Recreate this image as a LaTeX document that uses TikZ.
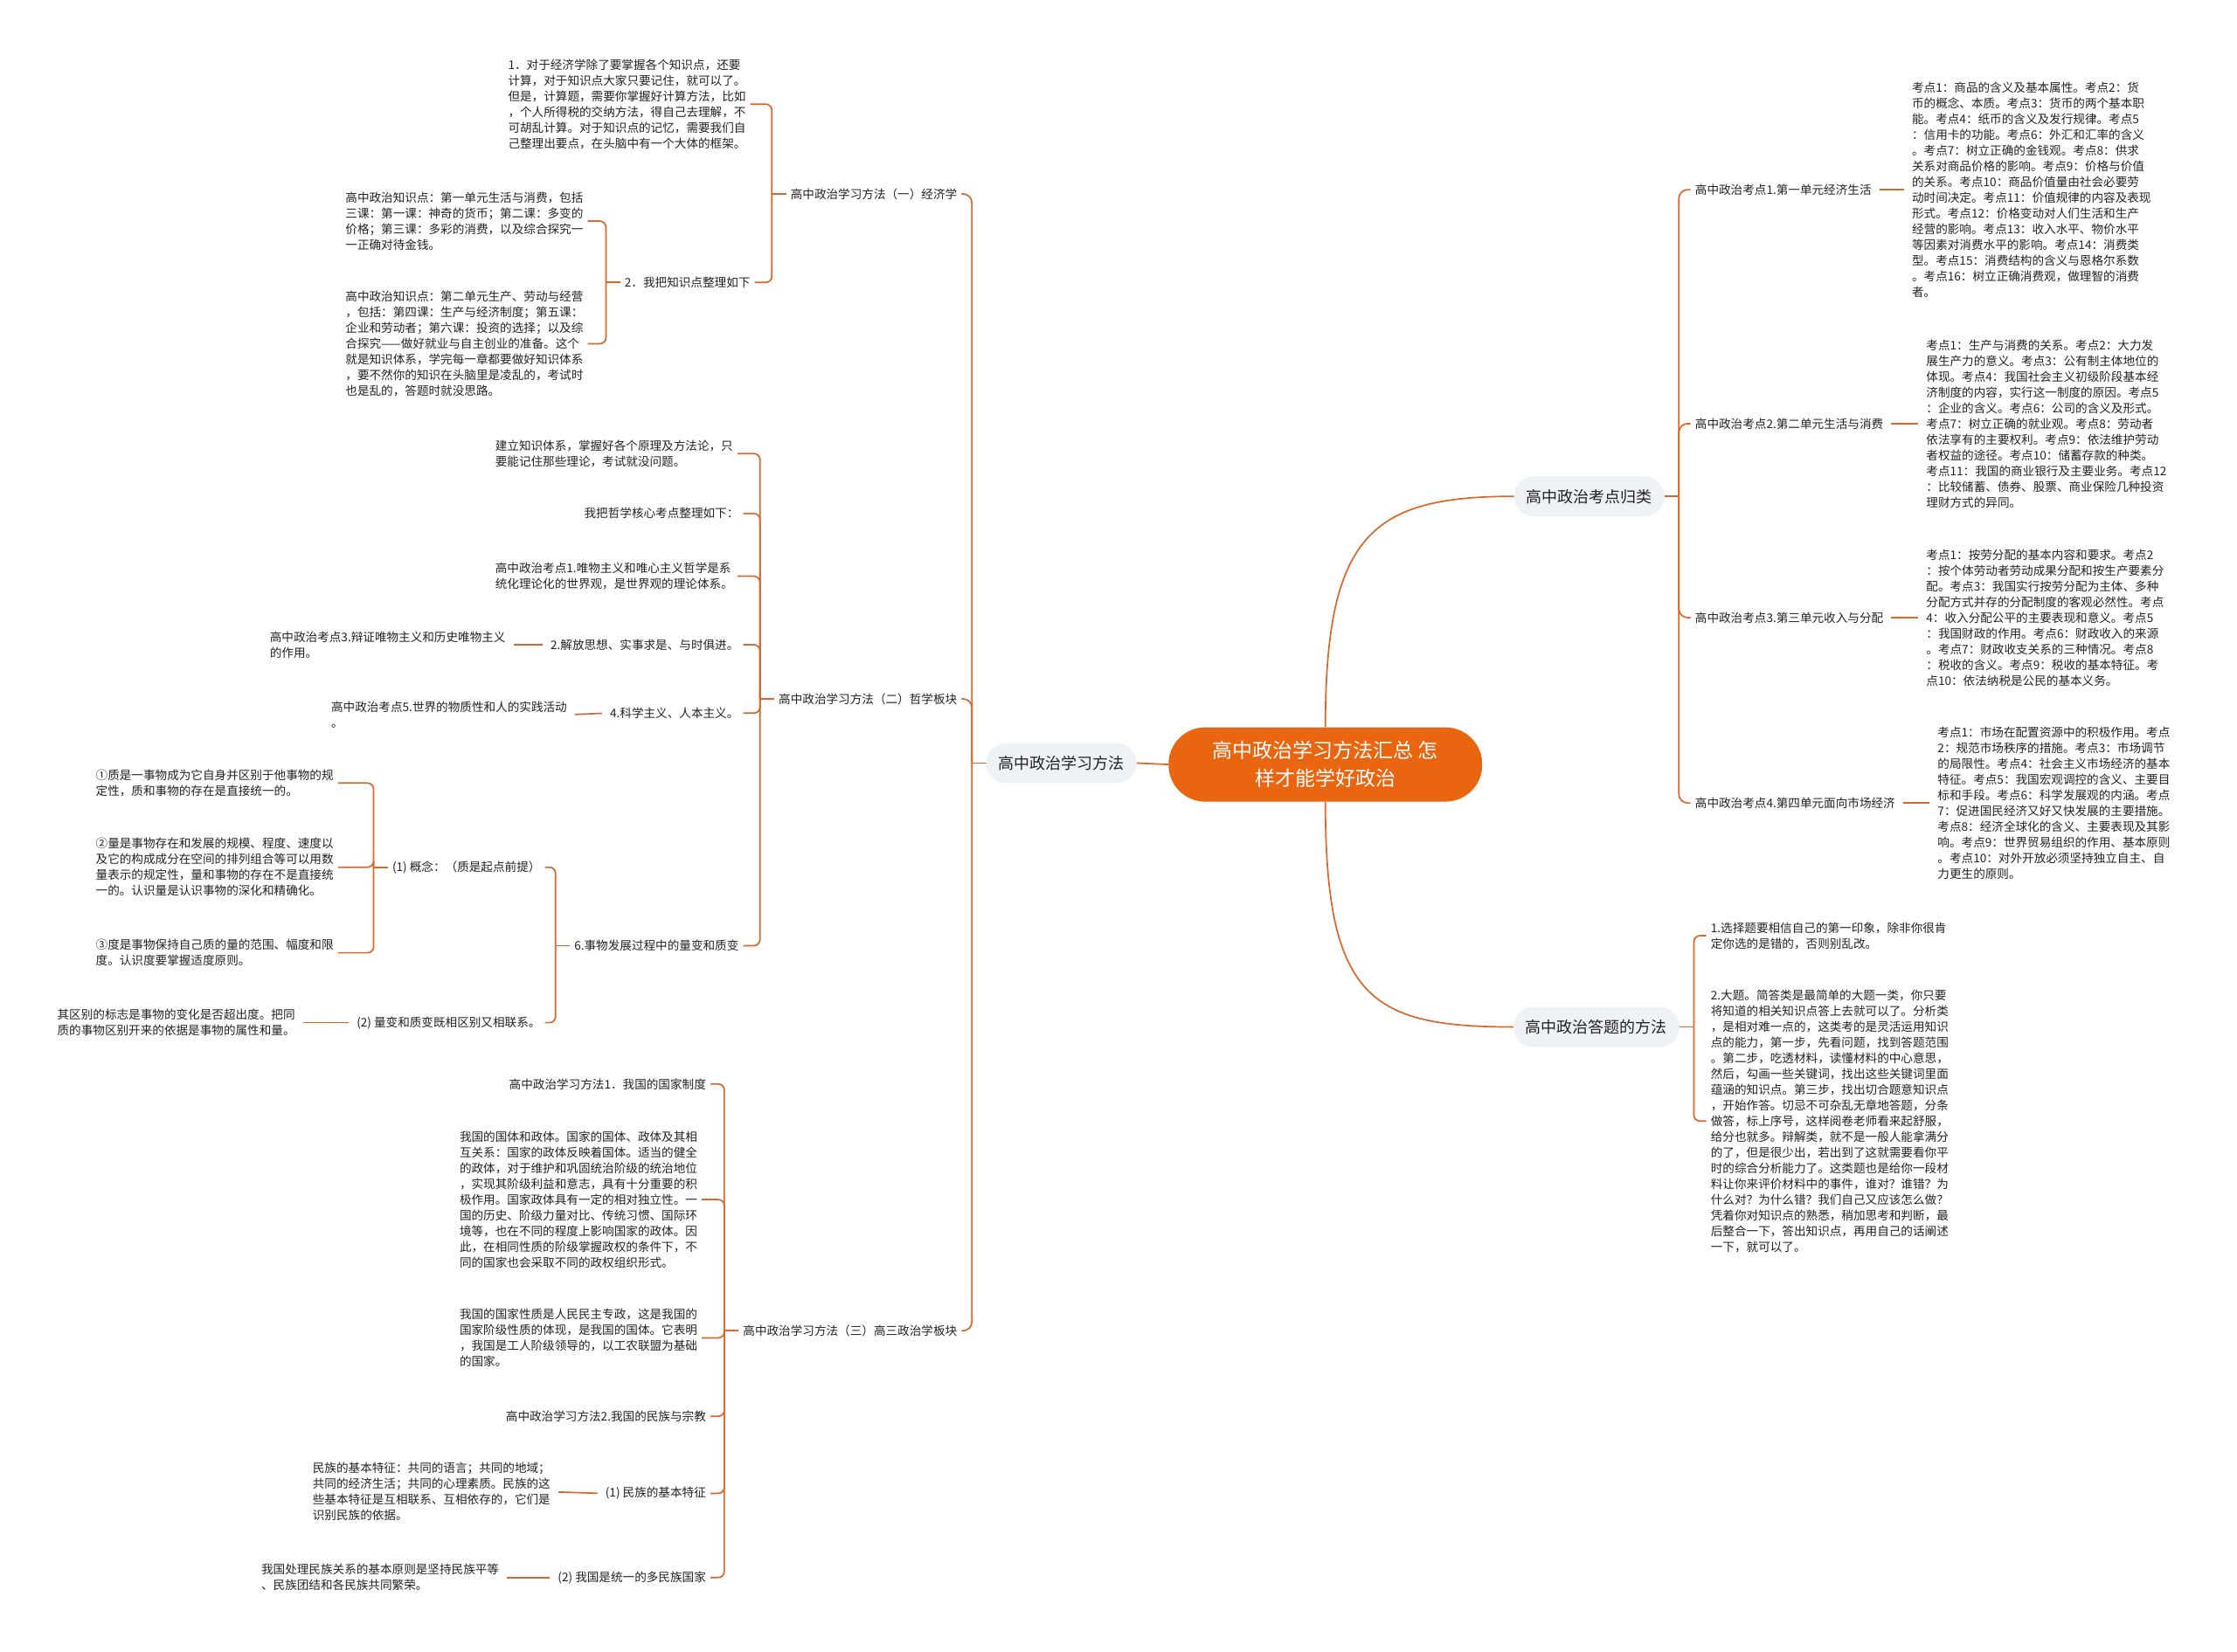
\documentclass[tikz,border=0pt]{standalone}
\usepackage{fontspec}
\setmainfont{Noto Sans CJK SC}
\usepackage{tikz}
\usetikzlibrary{positioning}
\definecolor{MapOrange}{HTML}{E9650F}
\definecolor{MapLine}{HTML}{D8672A}
\definecolor{MapPill}{HTML}{EEF1F5}
\definecolor{MapInk}{HTML}{222222}

\begin{document}
\begin{tikzpicture}[x=1.6327pt, y=-1.6327pt,
  link/.style={draw=MapLine, line width=1.7pt, rounded corners=7pt},
  pair/.style={link, shorten <=4pt, shorten >=4pt},
  root/.style={fill=MapOrange, text=white, rounded corners=42pt, minimum width=359pt,
    minimum height=85pt, align=center, font=\fontsize{23}{32}\selectfont},
  topic/.style={fill=MapPill, text=MapInk, rounded corners=23pt, minimum height=46pt,
    inner xsep=14pt, font=\fontsize{18}{22}\selectfont},
  leaf/.style={text=MapInk, align=left, inner xsep=5pt, inner ysep=2pt,
    font=\fontsize{13.6}{18}\selectfont}]
  \useasboundingbox (0,0) rectangle (1568,1158);
  \fill[white] (0,0) rectangle (1568,1158);

  \node[root] (root) at (929,536) {高中政治学习方法汇总 怎\\样才能学好政治};
  \node[topic] (xuexi) at (744,535) {高中政治学习方法};
  \node[topic] (kaodian) at (1114,348) {高中政治考点归类};
  \node[topic] (dati) at (1119,720) {高中政治答题的方法};

  \draw[link] (root.west) -- (xuexi.east);
  \draw[link] (root.north) .. controls +(0,-135) and +(-100,0) .. (kaodian.west);
  \draw[link] (root.south) .. controls +(0,138) and +(-100,0) .. (dati.west);

  % left: study methods
  \node[leaf, anchor=east] (jingji) at (674,136) {高中政治学习方法（一）经济学};
  \node[leaf, anchor=east] (zhexue) at (674,490) {高中政治学习方法（二）哲学板块};
  \node[leaf, anchor=east] (gaosan) at (674,933) {高中政治学习方法（三）高三政治学板块};

  \node[leaf, anchor=west] (jj1) at (353,73)
    {1．对于经济学除了要掌握各个知识点，还要\\计算，对于知识点大家只要记住，就可以了。\\但是，计算题，需要你掌握好计算方法，比如\\，个人所得税的交纳方法，得自己去理解，不\\可胡乱计算。对于知识点的记忆，需要我们自\\己整理出要点，在头脑中有一个大体的框架。};
  \node[leaf, anchor=east] (jj2) at (529,198) {2．我把知识点整理如下};
  \node[leaf, anchor=west] (zs1) at (239,155)
    {高中政治知识点：第一单元生活与消费，包括\\三课：第一课：神奇的货币；第二课：多变的\\价格；第三课：多彩的消费，以及综合探究一\\一正确对待金钱。};
  \node[leaf, anchor=west] (zs2) at (239,241)
    {高中政治知识点：第二单元生产、劳动与经营\\，包括：第四课：生产与经济制度；第五课：\\企业和劳动者；第六课：投资的选择；以及综\\合探究——做好就业与自主创业的准备。这个\\就是知识体系，学完每一章都要做好知识体系\\，要不然你的知识在头脑里是凌乱的，考试时\\也是乱的，答题时就没思路。};

  \node[leaf, anchor=west] (zx1) at (344,318)
    {建立知识体系，掌握好各个原理及方法论，只\\要能记住那些理论，考试就没问题。};
  \node[leaf, anchor=east] (zx2) at (521,360) {我把哲学核心考点整理如下：};
  \node[leaf, anchor=west] (zx3) at (344,404)
    {高中政治考点1.唯物主义和唯心主义哲学是系\\统化理论化的世界观，是世界观的理论体系。};
  \node[leaf, anchor=east] (zx4) at (521,452) {2.解放思想、实事求是、与时俱进。};
  \node[leaf, anchor=west] (zx4a) at (186,452) {高中政治考点3.辩证唯物主义和历史唯物主义\\的作用。};
  \node[leaf, anchor=east] (zx5) at (521,500) {4.科学主义、人本主义。};
  \node[leaf, anchor=west] (zx5a) at (229,501) {高中政治考点5.世界的物质性和人的实践活动\\。};
  \node[leaf, anchor=east] (zx6) at (521,663) {6.事物发展过程中的量变和质变};
  \node[leaf, anchor=east] (gn) at (382,608) {(1) 概念：（质是起点前提）};
  \node[leaf, anchor=west] (q1) at (64,549)
    {①质是一事物成为它自身并区别于他事物的规\\定性，质和事物的存在是直接统一的。};
  \node[leaf, anchor=west] (q2) at (64,608)
    {②量是事物存在和发展的规模、程度、速度以\\及它的构成成分在空间的排列组合等可以用数\\量表示的规定性，量和事物的存在不是直接统\\一的。认识量是认识事物的深化和精确化。};
  \node[leaf, anchor=west] (q3) at (64,668)
    {③度是事物保持自己质的量的范围、幅度和限\\度。认识度要掌握适度原则。};
  \node[leaf, anchor=east] (bh) at (382,717) {(2) 量变和质变既相区别又相联系。};
  \node[leaf, anchor=west] (bh1) at (37,717)
    {其区别的标志是事物的变化是否超出度。把同\\质的事物区别开来的依据是事物的属性和量。};

  \node[leaf, anchor=east] (gs1) at (498,760) {高中政治学习方法1．我国的国家制度};
  \node[leaf, anchor=west] (gs2) at (319,841)
    {我国的国体和政体。国家的国体、政体及其相\\互关系：国家的政体反映着国体。适当的健全\\的政体，对于维护和巩固统治阶级的统治地位\\，实现其阶级利益和意志，具有十分重要的积\\极作用。国家政体具有一定的相对独立性。一\\国的历史、阶级力量对比、传统习惯、国际环\\境等，也在不同的程度上影响国家的政体。因\\此，在相同性质的阶级掌握政权的条件下，不\\同的国家也会采取不同的政权组织形式。};
  \node[leaf, anchor=west] (gs3) at (319,938)
    {我国的国家性质是人民民主专政，这是我国的\\国家阶级性质的体现，是我国的国体。它表明\\，我国是工人阶级领导的，以工农联盟为基础\\的国家。};
  \node[leaf, anchor=east] (gs4) at (498,993) {高中政治学习方法2.我国的民族与宗教};
  \node[leaf, anchor=east] (gs5) at (498,1047) {(1) 民族的基本特征};
  \node[leaf, anchor=west] (gs5a) at (216,1046)
    {民族的基本特征：共同的语言；共同的地域；\\共同的经济生活；共同的心理素质。民族的这\\些基本特征是互相联系、互相依存的，它们是\\识别民族的依据。};
  \node[leaf, anchor=east] (gs6) at (498,1106) {(2) 我国是统一的多民族国家};
  \node[leaf, anchor=west] (gs6a) at (180,1106)
    {我国处理民族关系的基本原则是坚持民族平等\\、民族团结和各民族共同繁荣。};

  \draw[link] (xuexi.west) -- ++(-10,0);
  \draw[link, rounded corners=10pt] (xuexi.west) ++(-10,0) |- (jingji.east);
  \draw[link, rounded corners=10pt] (xuexi.west) ++(-10,0) |- (zhexue.east);
  \draw[link, rounded corners=10pt] (xuexi.west) ++(-10,0) |- (gaosan.east);

  \draw[link] (jingji.west) -- ++(-10,0);
  \draw[link] (jingji.west) ++(-10,0) |- (jj1.east);
  \draw[link] (jingji.west) ++(-10,0) |- (jj2.east);
  \draw[link] (jj2.west) -- ++(-10,0);
  \draw[link] (jj2.west) ++(-10,0) |- (zs1.east);
  \draw[link] (jj2.west) ++(-10,0) |- (zs2.east);

  \draw[link] (zhexue.west) -- ++(-10,0);
  \draw[link] (zhexue.west) ++(-10,0) |- (zx1.east);
  \draw[link] (zhexue.west) ++(-10,0) |- (zx2.east);
  \draw[link] (zhexue.west) ++(-10,0) |- (zx3.east);
  \draw[link] (zhexue.west) ++(-10,0) |- (zx4.east);
  \draw[link] (zhexue.west) ++(-10,0) |- (zx5.east);
  \draw[link] (zhexue.west) ++(-10,0) |- (zx6.east);
  \draw[pair] (zx4.west) -- (zx4a.east);
  \draw[pair] (zx5.west) -- (zx5a.east);
  \draw[link] (zx6.west) -- ++(-10,0);
  \draw[link] (zx6.west) ++(-10,0) |- (gn.east);
  \draw[link] (zx6.west) ++(-10,0) |- (bh.east);
  \draw[link] (gn.west) -- ++(-10,0);
  \draw[link] (gn.west) ++(-10,0) |- (q1.east);
  \draw[link] (gn.west) ++(-10,0) |- (q2.east);
  \draw[link] (gn.west) ++(-10,0) |- (q3.east);
  \draw[pair] (bh.west) -- (bh1.east);

  \draw[link] (gaosan.west) -- ++(-10,0);
  \draw[link] (gaosan.west) ++(-10,0) |- (gs1.east);
  \draw[link] (gaosan.west) ++(-10,0) |- (gs2.east);
  \draw[link] (gaosan.west) ++(-10,0) |- (gs3.east);
  \draw[link] (gaosan.west) ++(-10,0) |- (gs4.east);
  \draw[link] (gaosan.west) ++(-10,0) |- (gs5.east);
  \draw[link] (gaosan.west) ++(-10,0) |- (gs6.east);
  \draw[pair] (gs5.west) -- (gs5a.east);
  \draw[pair] (gs6.west) -- (gs6a.east);

  % right: exam points
  \node[leaf, anchor=west] (kd1) at (1185,133) {高中政治考点1.第一单元经济生活};
  \node[leaf, anchor=west] (kd1a) at (1337,133)
    {考点1：商品的含义及基本属性。考点2：货\\币的概念、本质。考点3：货币的两个基本职\\能。考点4：纸币的含义及发行规律。考点5\\：信用卡的功能。考点6：外汇和汇率的含义\\。考点7：树立正确的金钱观。考点8：供求\\关系对商品价格的影响。考点9：价格与价值\\的关系。考点10：商品价值量由社会必要劳\\动时间决定。考点11：价值规律的内容及表现\\形式。考点12：价格变动对人们生活和生产\\经营的影响。考点13：收入水平、物价水平\\等因素对消费水平的影响。考点14：消费类\\型。考点15：消费结构的含义与恩格尔系数\\。考点16：树立正确消费观，做理智的消费\\者。};
  \node[leaf, anchor=west] (kd2) at (1185,297) {高中政治考点2.第二单元生活与消费};
  \node[leaf, anchor=west] (kd2a) at (1347,297)
    {考点1：生产与消费的关系。考点2：大力发\\展生产力的意义。考点3：公有制主体地位的\\体现。考点4：我国社会主义初级阶段基本经\\济制度的内容，实行这一制度的原因。考点5\\：企业的含义。考点6：公司的含义及形式。\\考点7：树立正确的就业观。考点8：劳动者\\依法享有的主要权利。考点9：依法维护劳动\\者权益的途径。考点10：储蓄存款的种类。\\考点11：我国的商业银行及主要业务。考点12\\：比较储蓄、债券、股票、商业保险几种投资\\理财方式的异同。};
  \node[leaf, anchor=west] (kd3) at (1185,433) {高中政治考点3.第三单元收入与分配};
  \node[leaf, anchor=west] (kd3a) at (1347,433)
    {考点1：按劳分配的基本内容和要求。考点2\\：按个体劳动者劳动成果分配和按生产要素分\\配。考点3：我国实行按劳分配为主体、多种\\分配方式并存的分配制度的客观必然性。考点\\4：收入分配公平的主要表现和意义。考点5\\：我国财政的作用。考点6：财政收入的来源\\。考点7：财政收支关系的三种情况。考点8\\：税收的含义。考点9：税收的基本特征。考\\点10：依法纳税是公民的基本义务。};
  \node[leaf, anchor=west] (kd4) at (1185,563) {高中政治考点4.第四单元面向市场经济};
  \node[leaf, anchor=west] (kd4a) at (1355,563)
    {考点1：市场在配置资源中的积极作用。考点\\2：规范市场秩序的措施。考点3：市场调节\\的局限性。考点4：社会主义市场经济的基本\\特征。考点5：我国宏观调控的含义、主要目\\标和手段。考点6：科学发展观的内涵。考点\\7：促进国民经济又好又快发展的主要措施。\\考点8：经济全球化的含义、主要表现及其影\\响。考点9：世界贸易组织的作用、基本原则\\。考点10：对外开放必须坚持独立自主、自\\力更生的原则。};

  \draw[link] (kaodian.east) -- ++(10,0);
  \draw[link, rounded corners=10pt] (kaodian.east) ++(10,0) |- (kd1.west);
  \draw[link, rounded corners=10pt] (kaodian.east) ++(10,0) |- (kd2.west);
  \draw[link, rounded corners=10pt] (kaodian.east) ++(10,0) |- (kd3.west);
  \draw[link, rounded corners=10pt] (kaodian.east) ++(10,0) |- (kd4.west);
  \draw[pair] (kd1.east) -- (kd1a.west);
  \draw[pair] (kd2.east) -- (kd2a.west);
  \draw[pair] (kd3.east) -- (kd3a.west);
  \draw[pair] (kd4.east) -- (kd4a.west);

  % right: answering
  \node[leaf, anchor=west] (dt1) at (1196,656)
    {1.选择题要相信自己的第一印象，除非你很肯\\定你选的是错的，否则别乱改。};
  \node[leaf, anchor=west] (dt2) at (1196,786)
    {2.大题。简答类是最简单的大题一类，你只要\\将知道的相关知识点答上去就可以了。分析类\\，是相对难一点的，这类考的是灵活运用知识\\点的能力，第一步，先看问题，找到答题范围\\。第二步，吃透材料，读懂材料的中心意思，\\然后，勾画一些关键词，找出这些关键词里面\\蕴涵的知识点。第三步，找出切合题意知识点\\，开始作答。切忌不可杂乱无章地答题，分条\\做答，标上序号，这样阅卷老师看来起舒服，\\给分也就多。辩解类，就不是一般人能拿满分\\的了，但是很少出，若出到了这就需要看你平\\时的综合分析能力了。这类题也是给你一段材\\料让你来评价材料中的事件，谁对？谁错？为\\什么对？为什么错？我们自己又应该怎么做？\\凭着你对知识点的熟悉，稍加思考和判断，最\\后整合一下，答出知识点，再用自己的话阐述\\一下，就可以了。};

  \draw[link] (dati.east) -- ++(10,0);
  \draw[link] (dati.east) ++(10,0) |- (dt1.west);
  \draw[link] (dati.east) ++(10,0) |- (dt2.west);
\end{tikzpicture}
\end{document}
